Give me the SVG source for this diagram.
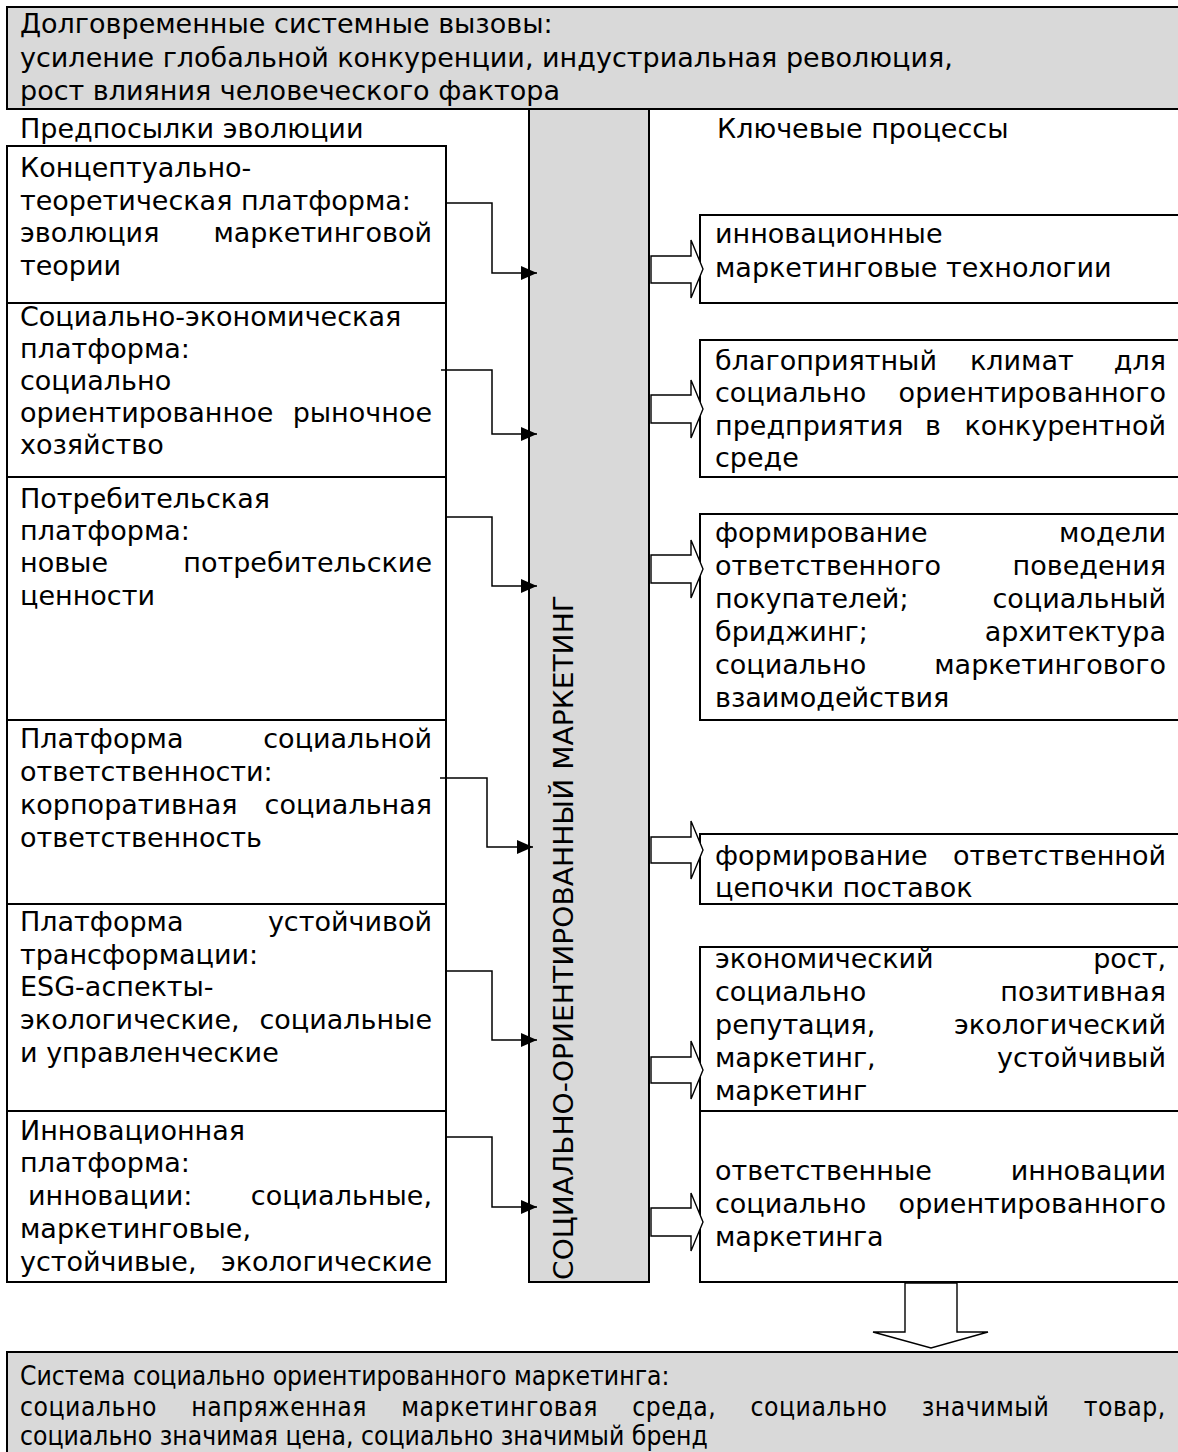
<svg xmlns="http://www.w3.org/2000/svg" width="1178" height="1452" viewBox="0 0 1178 1452">
<style>
.t{font-family:"DejaVu Sans",Verdana,sans-serif;font-size:27px;fill:#000}
.e{text-anchor:end}
.m{text-anchor:middle}
.box{fill:#fff;stroke:#000;stroke-width:2}
.grey{fill:#d9d9d9;stroke:#000;stroke-width:2}
.conn{fill:none;stroke:#000;stroke-width:1.5}
.barrow{fill:#fff;stroke:#000;stroke-width:1.4;stroke-linejoin:miter}
</style>
<defs>
<marker id="ah" markerUnits="userSpaceOnUse" markerWidth="16" markerHeight="16" viewBox="0 0 16 16" refX="16" refY="8" orient="auto">
<path d="M0,1 L16,8 L0,15 z" fill="#000"/>
</marker>
</defs>
<rect width="1178" height="1452" fill="#fff"/>

<g id="top">
<rect class="grey" x="7" y="7" width="1180" height="102"/>
<text class="t" x="20" y="33">Долговременные системные вызовы:</text>
<text class="t" x="20" y="67">усиление глобальной конкуренции, индустриальная революция,</text>
<text class="t" x="20" y="100">рост влияния человеческого фактора</text>
</g>

<g id="heading-left"><text class="t" x="20" y="138">Предпосылки эволюции</text></g>
<g id="heading-right"><text class="t" x="717" y="138">Ключевые процессы</text></g>

<g id="center">
<rect class="grey" x="529" y="109" width="120" height="1173"/>
<text class="t" transform="translate(573,1280) rotate(-90)" textLength="685" lengthAdjust="spacingAndGlyphs">СОЦИАЛЬНО-ОРИЕНТИРОВАННЫЙ МАРКЕТИНГ</text>
</g>

<g id="left1">
<rect class="box" x="7" y="146" width="439" height="157"/>
<text class="t" x="20" y="177">Концептуально-</text>
<text class="t" x="20" y="210">теоретическая платформа:</text>
<text class="t" x="20" y="242">эволюция</text><text class="t e" x="432" y="242">маркетинговой</text>
<text class="t" x="20" y="275">теории</text>
</g>
<g id="left2">
<rect class="box" x="7" y="303" width="439" height="174"/>
<text class="t" x="20" y="326">Социально-экономическая</text>
<text class="t" x="20" y="358">платформа:</text>
<text class="t" x="20" y="390">социально</text>
<text class="t" x="20" y="422">ориентированное</text><text class="t e" x="432" y="422">рыночное</text>
<text class="t" x="20" y="454">хозяйство</text>
</g>
<g id="left3">
<rect class="box" x="7" y="477" width="439" height="243"/>
<text class="t" x="20" y="508">Потребительская</text>
<text class="t" x="20" y="540">платформа:</text>
<text class="t" x="20" y="572">новые</text><text class="t e" x="432" y="572">потребительские</text>
<text class="t" x="20" y="605">ценности</text>
</g>
<g id="left4">
<rect class="box" x="7" y="720" width="439" height="184"/>
<text class="t" x="20" y="748">Платформа</text><text class="t e" x="432" y="748">социальной</text>
<text class="t" x="20" y="781">ответственности:</text>
<text class="t" x="20" y="814">корпоративная</text><text class="t e" x="432" y="814">социальная</text>
<text class="t" x="20" y="847">ответственность</text>
</g>
<g id="left5">
<rect class="box" x="7" y="904" width="439" height="207"/>
<text class="t" x="20" y="931">Платформа</text><text class="t e" x="432" y="931">устойчивой</text>
<text class="t" x="20" y="964">трансформации:</text>
<text class="t" x="20" y="996">ESG-аспекты-</text>
<text class="t" x="20" y="1029">экологические,</text><text class="t e" x="432" y="1029">социальные</text>
<text class="t" x="20" y="1062">и управленческие</text>
</g>
<g id="left6">
<rect class="box" x="7" y="1111" width="439" height="171"/>
<text class="t" x="20" y="1140">Инновационная</text>
<text class="t" x="20" y="1172">платформа:</text>
<text class="t" x="28" y="1205">инновации:</text><text class="t e" x="432" y="1205">социальные,</text>
<text class="t" x="20" y="1238">маркетинговые,</text>
<text class="t" x="20" y="1271">устойчивые,</text><text class="t e" x="432" y="1271">экологические</text>
</g>

<g id="right1">
<rect class="box" x="700" y="215" width="490" height="88"/>
<text class="t" x="715" y="243">инновационные</text>
<text class="t" x="715" y="277">маркетинговые технологии</text>
</g>
<g id="right2">
<rect class="box" x="700" y="340" width="490" height="137"/>
<text class="t" x="715" y="370">благоприятный</text><text class="t" x="970" y="370">климат</text><text class="t e" x="1166" y="370">для</text>
<text class="t" x="715" y="402">социально</text><text class="t e" x="1166" y="402">ориентированного</text>
<text class="t" x="715" y="435">предприятия</text><text class="t m" x="933" y="435">в</text><text class="t e" x="1166" y="435">конкурентной</text>
<text class="t" x="715" y="467">среде</text>
</g>
<g id="right3">
<rect class="box" x="700" y="514" width="490" height="206"/>
<text class="t" x="715" y="542">формирование</text><text class="t e" x="1166" y="542">модели</text>
<text class="t" x="715" y="575">ответственного</text><text class="t e" x="1166" y="575">поведения</text>
<text class="t" x="715" y="608">покупателей;</text><text class="t e" x="1166" y="608">социальный</text>
<text class="t" x="715" y="641">бриджинг;</text><text class="t e" x="1166" y="641">архитектура</text>
<text class="t" x="715" y="674">социально</text><text class="t e" x="1166" y="674">маркетингового</text>
<text class="t" x="715" y="707">взаимодействия</text>
</g>
<g id="right4">
<rect class="box" x="700" y="834" width="490" height="70"/>
<text class="t" x="715" y="865">формирование</text><text class="t e" x="1166" y="865">ответственной</text>
<text class="t" x="715" y="897">цепочки поставок</text>
</g>
<g id="right5">
<rect class="box" x="700" y="947" width="490" height="164"/>
<text class="t" x="715" y="968">экономический</text><text class="t e" x="1166" y="968">рост,</text>
<text class="t" x="715" y="1001">социально</text><text class="t e" x="1166" y="1001">позитивная</text>
<text class="t" x="715" y="1034">репутация,</text><text class="t e" x="1166" y="1034">экологический</text>
<text class="t" x="715" y="1067">маркетинг,</text><text class="t e" x="1166" y="1067">устойчивый</text>
<text class="t" x="715" y="1100">маркетинг</text>
</g>
<g id="right6">
<rect class="box" x="700" y="1111" width="490" height="171"/>
<text class="t" x="715" y="1180">ответственные</text><text class="t e" x="1166" y="1180">инновации</text>
<text class="t" x="715" y="1213">социально</text><text class="t e" x="1166" y="1213">ориентированного</text>
<text class="t" x="715" y="1246">маркетинга</text>
</g>

<g id="bottom">
<rect class="grey" x="7" y="1352" width="1180" height="110"/>
<g transform="translate(20,0) scale(0.875,1)">
<text class="t" x="0" y="1385">Система социально ориентированного маркетинга:</text>
<text class="t" x="0" y="1416" word-spacing="30" textLength="1309" lengthAdjust="spacing">социально напряженная маркетинговая среда, социально значимый товар,</text>
<text class="t" x="0" y="1445">социально значимая цена, социально значимый бренд</text>
</g>
</g>

<g id="connectors">
<path class="conn" d="M446,203 H492 V273 H537" marker-end="url(#ah)"/>
<path class="conn" d="M441,370 H492 V434 H537" marker-end="url(#ah)"/>
<path class="conn" d="M446,517 H492 V586 H537" marker-end="url(#ah)"/>
<path class="conn" d="M440,778 H487 V847 H533" marker-end="url(#ah)"/>
<path class="conn" d="M446,971 H492 V1040 H537" marker-end="url(#ah)"/>
<path class="conn" d="M446,1137 H492 V1207 H537" marker-end="url(#ah)"/>
<polygon class="barrow" points="651,256 691,256 691,240 703,269 691,298 691,283 651,283"/>
<polygon class="barrow" points="651,395 691,395 691,380 703,409 691,438 691,423 651,423"/>
<polygon class="barrow" points="651,555 691,555 691,540 703,569 691,598 691,583 651,583"/>
<polygon class="barrow" points="651,837 691,837 691,821 703,850 691,879 691,863 651,863"/>
<polygon class="barrow" points="651,1057 691,1057 691,1041 703,1070 691,1099 691,1083 651,1083"/>
<polygon class="barrow" points="651,1208 691,1208 691,1193 703,1222 691,1251 691,1236 651,1236"/>
<polygon class="barrow" points="905,1283 957,1283 957,1332 988,1332 931,1348 873,1332 905,1332"/>
</g>
</svg>
